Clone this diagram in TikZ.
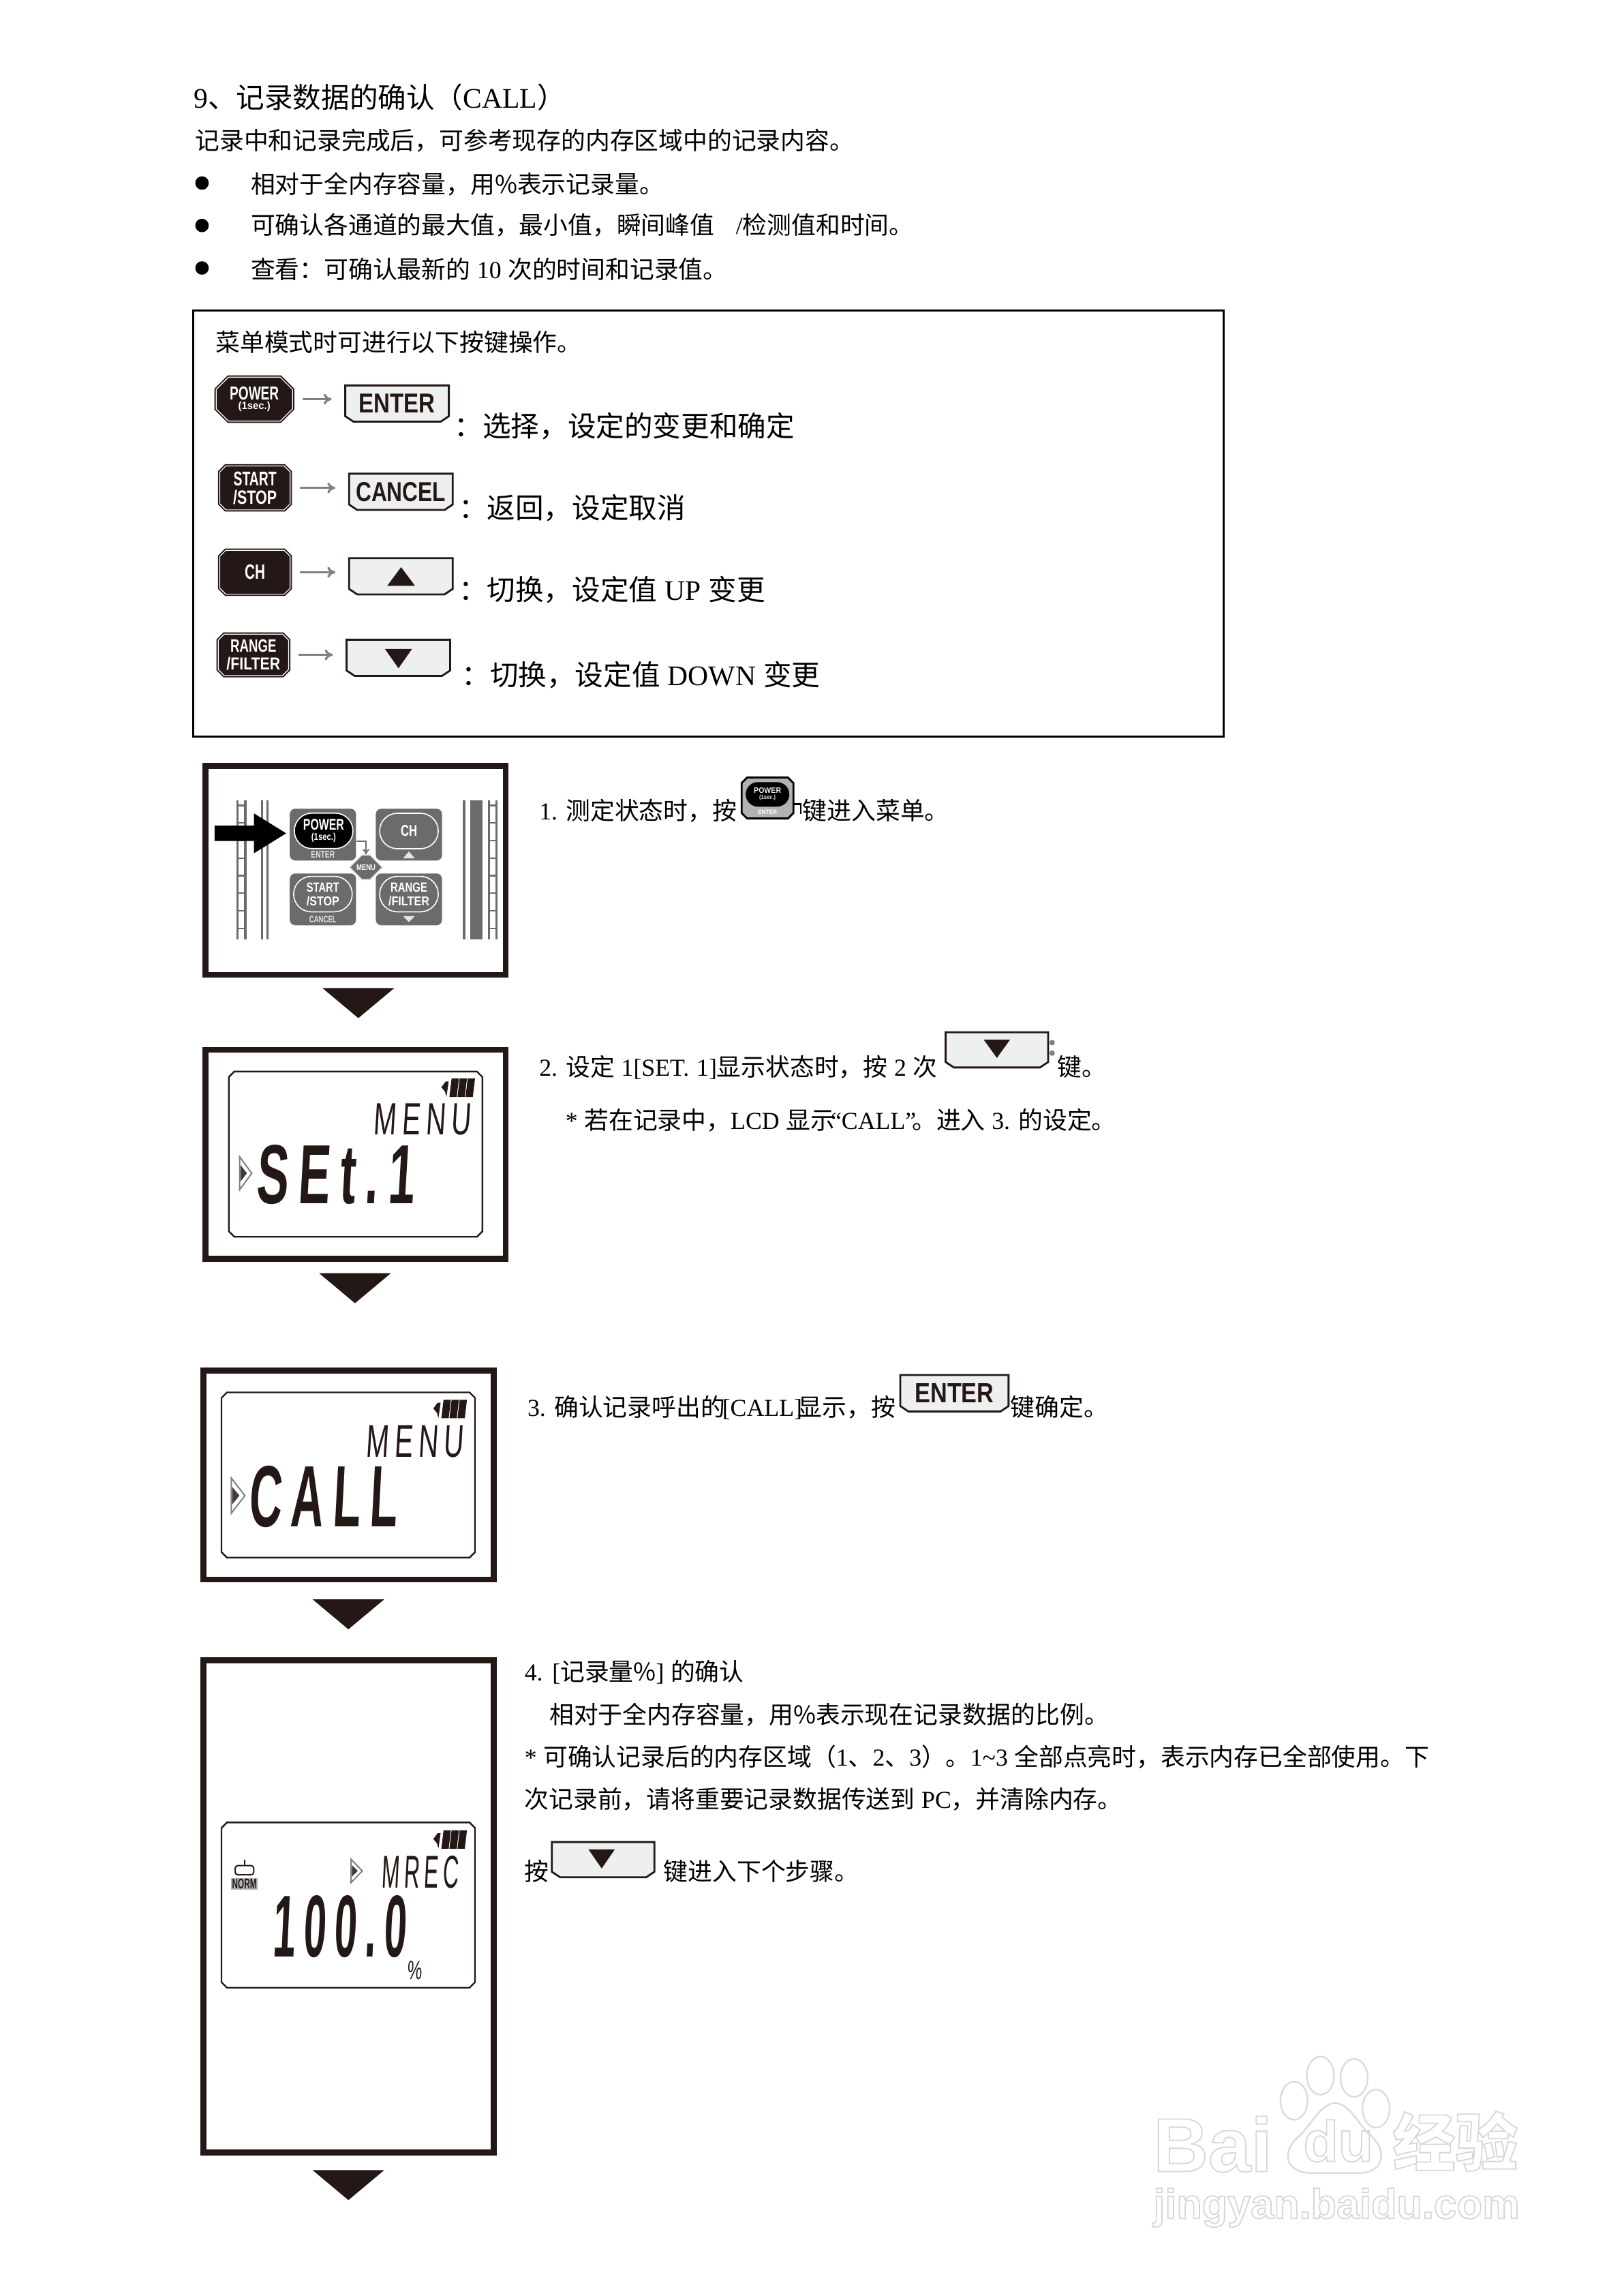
\documentclass[tikz,border=0pt]{standalone}
\usepackage{fontspec}
\usepackage{graphicx}
\usetikzlibrary{shapes.misc,arrows.meta,backgrounds}
\setmainfont[WordSpace=1.2]{Noto Sans CJK SC}
\newfontfamily\latfont[WordSpace=1.2]{Liberation Serif}
\newfontfamily\keyfont{Liberation Sans}
\newfontfamily\lcdfont[FakeSlant=0.1,LetterSpace=20]{Liberation Sans}
\definecolor{inkdark}{HTML}{231815}
\definecolor{keyfill}{HTML}{EEF0EF}
\definecolor{panelgray}{HTML}{6B6B6B}
\newcommand\la[1]{{\latfont #1}}
\newcommand\fittext[3]{\resizebox{#1}{#2}{#3}}
\newcommand\outlined[1]{\special{pdf:code q 1 Tr 0.45 w 0.84 G}#1\special{pdf:code Q}}
% cut corners round a node: node, cut, style
\newcommand\octagon[3]{
  \draw[#3] ([xshift=#2]#1.north west) -- ([xshift=-#2]#1.north east) -- ([yshift=-#2]#1.north east)
    -- ([yshift=#2]#1.south east) -- ([xshift=-#2]#1.south east) -- ([xshift=#2]#1.south west)
    -- ([yshift=#2]#1.south west) -- ([yshift=-#2]#1.north west) -- cycle;
}
% battery mark, top left corner at (#1,#2)
\newcommand\batterymark[2]{
  \fill[inkdark] (#1,#2+6) -- (#1+3,#2+2) -- (#1+5,#2+2) -- (#1+3.5,#2+12.5) -- (#1+2.5,#2+9) -- cycle;
  \foreach \b in {5.5,11,16.5}
    \fill[inkdark] (#1+\b+1.5,#2) -- (#1+\b+6.5,#2) -- (#1+\b+5,#2+12.6) -- (#1+\b,#2+12.6) -- cycle;
}
% double triangle of the display: left, top, width, height
\newcommand\lcdmarker[4]{
  \draw[gray,line width=.5pt] (#1,#2) -- (#1+#3,#2+#4/2) -- (#1,#2+#4) -- cycle;
  \fill[inkdark!85] (#1+.6,#2+#4*.25) -- (#1+#3*.6,#2+#4/2) -- (#1+.6,#2+#4*.75) -- cycle;
}
\tikzset{
  bodytext/.style={anchor=base west,inner sep=0pt,font=\fontsize{8.95}{10}\selectfont},
  largetext/.style={anchor=base west,inner sep=0pt,font=\fontsize{10.4}{12}\selectfont},
  softkey/.style={rectangle,minimum width=38pt,minimum height=13.3pt,inner sep=0pt,outer sep=0pt,text=inkdark,font=\keyfont\bfseries},
  softedge/.style={draw=inkdark,line width=.7pt,fill=keyfill},
  darkkey/.style={rectangle,minimum width=25.8pt,minimum height=16.1pt,inner sep=0pt,outer sep=0pt,align=center,text=white,
    font=\keyfont\bfseries\fontsize{3}{3}\selectfont},
  darkedge/.style={draw=inkdark,line width=.5pt,double=white,double distance=.3pt,fill=inkdark},
  keyarrow/.style={-{To[length=3pt,width=4pt]},gray,line width=.8pt,shorten <=3.6pt,shorten >=5pt},
  panel/.style={draw=inkdark,line width=2.2pt,inner sep=0pt},
  lcdframe/.style={rectangle,minimum width=93pt,minimum height=60.6pt,inner sep=0pt,outer sep=0pt},
  lcdedge/.style={draw=inkdark,line width=.6pt},
  lcdtext/.style={anchor=north west,inner sep=0pt,text=inkdark,font=\lcdfont},
  block/.style={rounded corners=2pt,fill=panelgray,minimum width=24.3pt,minimum height=19pt,inner sep=0pt},
  oval/.style={rounded rectangle,draw=white,line width=.4pt,fill=panelgray,minimum width=21.5pt,
    minimum height=13pt,inner sep=0pt,align=center,text=white,font=\keyfont\bfseries\fontsize{2}{2}\selectfont},
  tinylabel/.style={inner sep=0pt,text=white!80!gray,font=\keyfont\bfseries},
  watermark/.style={anchor=base west,inner sep=0pt,text=black!16}
}
\begin{document}
\begin{tikzpicture}[x=0.537pt,y=-0.537pt]
  \useasboundingbox (0,0) rectangle (1108,1568);

  % heading and bullets
  \node[largetext] (title) at (132,74) {\la{9}、记录数据的确认（\la{CALL}）};
  \node[bodytext] (intro) at (133,102) {记录中和记录完成后，可参考现存的内存区域中的记录内容。};
  \foreach \y in {125,154,183} % bullets
    \fill[black] (138,\y) circle (4.6);
  \node[bodytext] (itemone) at (171,132) {相对于全内存容量，用\%表示记录量。};
  \node[bodytext] (itemtwo) at (171,160) {可确认各通道的最大值，最小值，瞬间峰值\hspace{5.5pt} \la{/}检测值和时间。};
  \node[bodytext] (itemthree) at (171,190) {查看：可确认最新的 \la{10} 次的时间和记录值。};

  % key table
  \node[draw=black,line width=.8pt,minimum width=378pt,minimum height=156.3pt,inner sep=0pt] (keytable) at (484,357.5) {};
  \node[bodytext] (tablehead) at (147,240) {菜单模式时可进行以下按键操作。};

  \node[darkkey,minimum width=28pt] (keypower) at (173.75,272.6)
    {\fittext{18pt}{4.8pt}{POWER}\\[.4pt]\fittext{11.8pt}{2.8pt}{(1sec.)}};
  \node[darkkey] (keystart) at (174.2,333.2) {\fittext{15.8pt}{5.1pt}{START}\\[.6pt]\fittext{16pt}{5.1pt}{/STOP}};
  \node[darkkey] (keych) at (174.2,390.8) {\fittext{7.5pt}{5.3pt}{CH}};
  \node[darkkey,minimum height=15.2pt] (keyrange) at (173.1,447.2) {\fittext{16.8pt}{4.6pt}{RANGE}\\[.6pt]\fittext{19.7pt}{4.6pt}{/FILTER}};

  \node[softkey] (keyenter) at (271.25,275.6) {\fittext{28pt}{6.9pt}{ENTER}};
  \node[softkey] (keycancel) at (273.85,335.9) {\fittext{33pt}{7pt}{CANCEL}};
  \node[softkey] (keyup) at (273.85,393.55) {};
  \node[softkey] (keydown) at (272.1,449.25) {};
  \fill[inkdark] (264.5,400.1) -- (283.5,400.1) -- (274,387.3) -- cycle;
  \fill[inkdark] (262.9,443.1) -- (281.5,443.1) -- (272.2,456.4) -- cycle;

  \foreach \from/\to in {keypower/keyenter,keystart/keycancel,keych/keyup,keyrange/keydown}
    \draw[keyarrow] (\from.east) -- (\from.east -| \to.west);

  \node[largetext] (textenter) at (310,298) {：选择，设定的变更和确定};
  \node[largetext] (textcancel) at (313,354) {：返回，设定取消};
  \node[largetext] (textup) at (313,410) {：切换，设定值 \la{UP} 变更};
  \node[largetext] (textdown) at (315,468) {：切换，设定值 \la{DOWN} 变更};

  % the four panels
  \node[panel,minimum width=110.1pt,minimum height=76.6pt] (panelkeys) at (242.95,594.4) {};
  \node[panel,minimum width=110.1pt,minimum height=76.7pt] (panelset) at (242.95,788.4) {};
  \node[panel,minimum width=106.6pt,minimum height=76.7pt] (panelcall) at (238.15,1007.3) {};
  \node[panel,minimum width=106.6pt,minimum height=180.4pt] (panelrec) at (238.15,1302) {};

  % flow triangles
  \foreach \x/\y in {244.8/674.8,242.5/869.5,238/1092.2,238/1482}
    \fill[inkdark] (\x-24.5,\y) -- (\x+24.5,\y) -- (\x,\y+20.5) -- cycle;

  % panel 1 - meter rails
  \foreach \x in {162.2,167.6,178.9,182.8,317,334,339.2}
    \draw[panelgray,line width=.8pt] (\x,546.5) -- (\x,641.5);
  \fill[panelgray] (321.2,546.5) rectangle (329.5,641.5);
  \foreach \y in {550,562,574,586,598,610,622,634}{
    \draw[panelgray,line width=.6pt] (162.2,\y) -- (167.6,\y);
    \draw[panelgray,line width=.6pt] (334,\y) -- (339.2,\y);
  }

  % panel 1 - buttons
  \foreach \name/\x/\y in {blockpower/220.6/570,blockch/279.35/570,blockstart/220.6/614.2,blockrange/279.35/614.2}
    \node[block] (\name) at (\x,\y) {};
  \node[oval,fill=black] (ovalpower) at (221.1,567.4) {\fittext{15pt}{4pt}{POWER}\\[0pt]\fittext{9pt}{2.6pt}{(1sec.)}};
  \node[oval] (ovalch) at (279.35,567.5) {\fittext{6pt}{4pt}{CH}};
  \node[oval] (ovalstart) at (220.6,610.6) {\fittext{12pt}{3.4pt}{START}\\[.6pt]\fittext{12pt}{3.4pt}{/STOP}};
  \node[oval] (ovalrange) at (279.35,610.6) {\fittext{13.5pt}{3.4pt}{RANGE}\\[.6pt]\fittext{15pt}{3.4pt}{/FILTER}};
  \node[tinylabel] (labelenter) at (220.6,583.8) {\fittext{8.7pt}{2.4pt}{ENTER}};
  \node[tinylabel] (labelcancel) at (220.6,627.8) {\fittext{10pt}{2.4pt}{CANCEL}};
  \fill[white!80!gray] (275.3,586.2) -- (283.4,586.2) -- (279.35,581.5) -- cycle;
  \fill[white!80!gray] (275.3,625.6) -- (283.4,625.6) -- (279.35,629.8) -- cycle;
  \node[chamfered rectangle,chamfered rectangle xsep=2pt,draw=white!75!gray,line width=.4pt,fill=panelgray,
    minimum width=12pt,minimum height=9pt,inner sep=0pt,text=white,font=\keyfont\bfseries] (menuhex) at (250,592.3) {\fittext{7pt}{2pt}{MENU}};
  \draw[panelgray,line width=.5pt,-{To[length=2pt,width=2.5pt]}] ([yshift=-2.3pt]blockpower.east) -| (menuhex.north);
  \fill[black] (146.6,563.9) -- (173.5,563.9) -- (173.5,555.5) -- (195.5,569.1) -- (173.5,582.7) -- (173.5,574.3) -- (146.6,574.3) -- cycle;

  % panel 2 - SEt.1
  \node[lcdframe] (lcdset) at (242.95,788.2) {};
  \batterymark{301.5}{736.5}
  \node[lcdtext] (menuset) at (254.5,753.2) {\fittext{35.8pt}{11.4pt}{MENU}};
  \node[lcdtext] (textset) at (174.5,781.7) {\fittext{58pt}{21.5pt}{\bfseries SEt.1}};
  \lcdmarker{163.7}{790}{8.3}{22.5}

  % panel 3 - CALL
  \node[lcdframe] (lcdcall) at (237.9,1007.3) {};
  \batterymark{296}{955.9}
  \node[lcdtext] (menucall) at (249.5,973) {\fittext{35.8pt}{11.6pt}{MENU}};
  \node[lcdtext] (textcall) at (169.1,1000.9) {\fittext{54.6pt}{22.3pt}{\bfseries CALL}};
  \lcdmarker{158}{1009.4}{9.3}{24}

  % panel 4 - record rate
  \node[lcdframe] (lcdrec) at (237.9,1301) {};
  \batterymark{296}{1249.9}
  \lcdmarker{239.8}{1269.7}{7.7}{16}
  \node[lcdtext] (menurec) at (260,1266.8) {\fittext{28.3pt}{11.8pt}{MREC}};
  \node[lcdtext] (textrec) at (185.4,1294) {\fittext{49.2pt}{22.5pt}{\bfseries 100.0}};
  \node[lcdtext] (textpercent) at (277.8,1338.7) {\fittext{5.4pt}{6.7pt}{\%}};
  \node[draw=inkdark,line width=.5pt,rounded corners=1pt,minimum width=6.8pt,minimum height=3.4pt,inner sep=0pt] (normicon) at (167,1277.2) {};
  \draw[inkdark,line width=.5pt] (normicon.north) -- ++(0,-3.5);
  \node[fill=gray!60,text=inkdark,inner sep=0pt,minimum width=9.7pt,minimum height=4.3pt,font=\keyfont\bfseries] (normtext) at (167,1286.5) {\fittext{9pt}{3.6pt}{NORM}};

  % step texts
  \node[bodytext] (stepone) at (368,560) {\la{1.} 测定状态时，按};
  \node[rectangle,minimum width=19pt,minimum height=15pt,inner sep=0pt,outer sep=0pt] (smallpower) at (524.3,545) {};
  \node[rounded rectangle,fill=black,minimum width=16pt,minimum height=9pt,inner sep=0pt,align=center,text=white!85!gray,font=\keyfont\bfseries\fontsize{1}{1}\selectfont] (smalloval) at (524.3,542.5)
    {\fittext{10pt}{2pt}{POWER}\\[-.4pt]\fittext{6pt}{1.6pt}{(1sec.)}};
  \node[inner sep=0pt,text=white,font=\keyfont\bfseries] (smalllabel) at (524.3,554.6) {\fittext{7pt}{1.6pt}{ENTER}};
  \draw[black,line width=.7pt] ([yshift=-2.2pt]smallpower.east) -| (547,556);
  \node[bodytext] (stepenter) at (548,560) {键进入菜单。};

  \node[bodytext] (steptwo) at (368,735) {\la{2.} 设定 \la{1[SET. 1]}显示状态时，按 \la{2} 次};
  \node[softkey,minimum width=37.6pt,minimum height=12.9pt] (keydownb) at (681,717) {};
  \fill[inkdark] (672,710) -- (690,710) -- (681,722.5) -- cycle;
  \node[inner sep=0pt,font=\latfont\bfseries\fontsize{12}{12}\selectfont,text=gray] (colontwo) at (719,716) {:};
  \node[bodytext] (steptwokey) at (722,735) {键。};
  \node[bodytext] (steptwonote) at (386,771) {\la{*} 若在记录中，\la{LCD} 显示\hspace{-1.5pt}\la{“CALL”}\hspace{-1.5pt}。进入 \la{3.} 的设定。};

  \node[bodytext] (stepthree) at (360,967) {\la{3.} 确认记录呼出的\hspace{-1pt}\la{[CALL]}\hspace{-1.6pt}显示，按};
  \node[softkey,minimum width=39.7pt,minimum height=13.4pt] (keyenterb) at (652,951.5) {\fittext{29pt}{7pt}{ENTER}};
  \node[bodytext] (stepthreekey) at (690,967) {键确定。};

  \node[bodytext] (stepfour) at (358,1148) {\la{4. [}记录量\%\la{]} 的确认};
  \node[bodytext] (stepfourb) at (375,1177) {相对于全内存容量，用\%表示现在记录数据的比例。};
  \node[bodytext] (stepfourc) at (358,1206) {\la{*} 可确认记录后的内存区域（\la{1}、\la{2}、\la{3}）。\la{1\textasciitilde 3} 全部点亮时，表示内存已全部使用。下};
  \node[bodytext] (stepfourd) at (358,1235) {次记录前，请将重要记录数据传送到 \la{PC}，并清除内存。};
  \node[bodytext] (stepfoure) at (358,1284) {按};
  \node[softkey,minimum width=37.6pt,minimum height=12.9pt] (keydownc) at (412,1270) {};
  \fill[inkdark] (402,1263) -- (420,1263) -- (411,1276) -- cycle;
  \node[bodytext] (stepfourkey) at (453,1284) {键进入下个步骤。};

  % key and display outlines go behind the labels
  \begin{scope}[on background layer]
    \foreach \name in {keyenter,keycancel,keyup,keydown,keydownb,keyenterb,keydownc}
      \draw[softedge] (\name.north west) -- (\name.north east) -- ([yshift=2pt]\name.south east)
        -- ([xshift=-3pt]\name.south east) -- ([xshift=3pt]\name.south west) -- ([yshift=2pt]\name.south west) -- cycle;
    \foreach \name in {keystart,keych,keyrange}
      {\octagon{\name}{2.2pt}{darkedge}}
    \octagon{keypower}{4.5pt}{darkedge}
    \foreach \name in {lcdset,lcdcall,lcdrec}
      {\octagon{\name}{2pt}{lcdedge}}
    \octagon{smallpower}{2pt}{draw=black,line width=.7pt,fill=gray!60}
  \end{scope}

  % watermark
  \node[watermark,font=\keyfont\bfseries\fontsize{28}{28}\selectfont] (wmbai) at (787.5,1483) {\outlined{Bai}};
  \foreach \x/\y in {884/1434.6,902/1417.5,925/1419,940/1440}
    \draw[black!14,line width=.6pt] (\x,\y) ellipse (9.3 and 13);
  \draw[black!14,line width=.6pt] (912,1436) .. controls (900,1438) and (896,1452) .. (886,1460)
    .. controls (874,1472) and (880,1485) .. (898,1484) -- (926,1484)
    .. controls (945,1485) and (948,1470) .. (938,1460) .. controls (928,1452) and (924,1438) .. (912,1436) -- cycle;
  \node[watermark,font=\keyfont\bfseries\fontsize{21}{21}\selectfont] (wmdu) at (890,1476) {\outlined{du}};
  \node[watermark,font=\bfseries\fontsize{23}{23}\selectfont] (wmjy) at (951,1479) {\outlined{经验}};
  \node[watermark,font=\keyfont\bfseries\fontsize{15.3}{17}\selectfont] (wmurl) at (787.5,1515) {\outlined{jingyan.baidu.com}};
\end{tikzpicture}
\end{document}
